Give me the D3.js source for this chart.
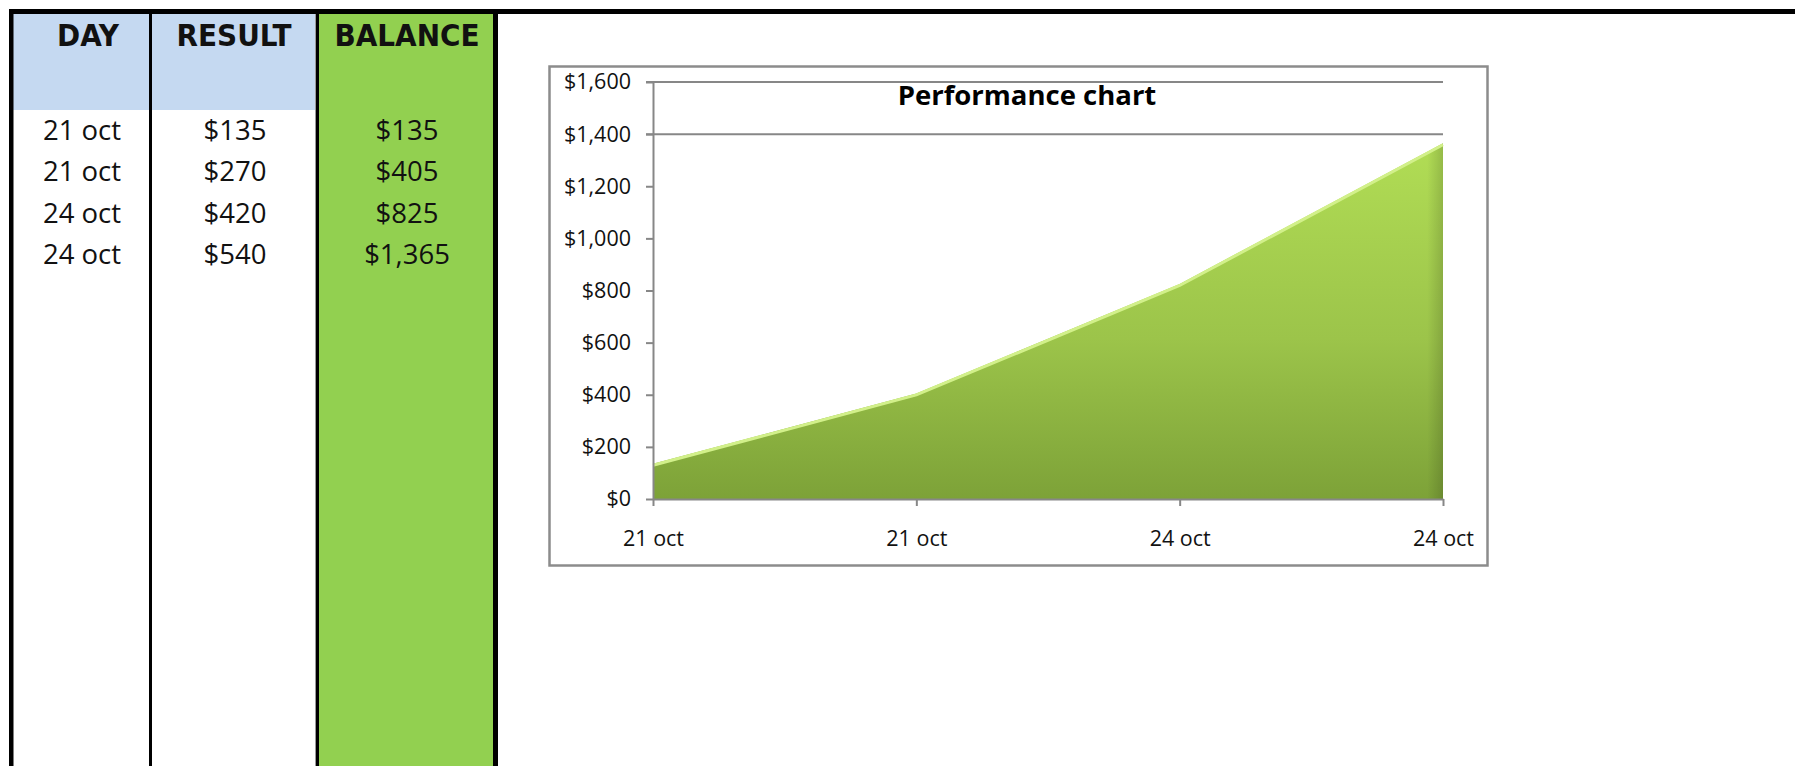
<!DOCTYPE html>
<html>
<head>
<meta charset="utf-8">
<script src="https://cdn.jsdelivr.net/npm/d3@7/dist/d3.min.js"></script>
<style>
  html, body { margin: 0; padding: 0; background: #ffffff; }
  svg { display: block; }
</style>
</head>
<body>
<svg id="chart" width="1795" height="766"></svg>
<script>
// ---- data ----
const headers = ["DAY", "RESULT", "BALANCE"];
const days = ["21 oct", "21 oct", "24 oct", "24 oct"];
const results = [135, 270, 420, 540];
const balances = [135, 405, 825, 1365];
const yTickValues = [0, 200, 400, 600, 800, 1000, 1200, 1400, 1600];
const gridValues = [1400, 1600];
const chartTitle = "Performance chart";

const svg = d3.select("#chart");
const W = 1795, H = 766;
const money = d3.format("$,");

// ---- spreadsheet table ----
const cols = [
  { x0: 13, x1: 149, head: "#C5D9F1", body: "#ffffff" },
  { x0: 152, x1: 316, head: "#C5D9F1", body: "#ffffff" },
  { x0: 319, x1: 493, head: "#92D050", body: "#92D050" }
];
const headTop = 14, headBottom = 110;

cols.forEach(c => {
  svg.append("rect").attr("x", c.x0).attr("y", headTop).attr("width", c.x1 - c.x0)
    .attr("height", headBottom - headTop).attr("fill", c.head);
  svg.append("rect").attr("x", c.x0).attr("y", headBottom).attr("width", c.x1 - c.x0)
    .attr("height", H - headBottom).attr("fill", c.body);
});

// borders
svg.append("rect").attr("x", 9).attr("y", 9).attr("width", W - 9).attr("height", 5).attr("fill", "#000");
svg.append("rect").attr("x", 9).attr("y", 9).attr("width", 4.5).attr("height", H).attr("fill", "#000");
svg.append("rect").attr("x", 149).attr("y", 9).attr("width", 3).attr("height", H).attr("fill", "#000");
svg.append("rect").attr("x", 315).attr("y", 14).attr("width", 1).attr("height", H).attr("fill", "#9a9a9a");
svg.append("rect").attr("x", 316).attr("y", 9).attr("width", 3).attr("height", H).attr("fill", "#000");
svg.append("rect").attr("x", 493).attr("y", 9).attr("width", 5).attr("height", H).attr("fill", "#000");

// header labels
const headOffsets = [7, 0, 1];
svg.selectAll("text.head").data(headers).join("text")
  .attr("class", "head")
  .attr("x", (d, i) => (cols[i].x0 + cols[i].x1) / 2 + headOffsets[i])
  .attr("y", 46)
  .attr("text-anchor", "middle")
  .style("font-family", "'DejaVu Sans Condensed', 'DejaVu Sans', sans-serif")
  .style("font-stretch", "condensed")
  .style("font-weight", "bold")
  .style("font-size", "31px")
  .attr("fill", "#111")
  .text(d => d);

// rows
const rowY = d3.scaleLinear().domain([0, 3]).range([140, 264]);
const cellStyle = sel => sel
  .attr("text-anchor", "middle")
  .style("font-family", "'Open Sans', sans-serif")
  .style("font-size", "27.5px")
  .attr("fill", "#111");

svg.selectAll("text.day").data(days).join("text").attr("class", "day")
  .attr("x", (cols[0].x0 + cols[0].x1) / 2 + 1).attr("y", (d, i) => rowY(i))
  .call(cellStyle).text(d => d);
svg.selectAll("text.res").data(results).join("text").attr("class", "res")
  .attr("x", (cols[1].x0 + cols[1].x1) / 2 + 1).attr("y", (d, i) => rowY(i))
  .call(cellStyle).text(d => money(d));
svg.selectAll("text.bal").data(balances).join("text").attr("class", "bal")
  .attr("x", (cols[2].x0 + cols[2].x1) / 2 + 1).attr("y", (d, i) => rowY(i))
  .call(cellStyle).text(d => money(d));

// ---- chart ----
svg.append("rect").attr("x", 549.5).attr("y", 66.5).attr("width", 938).attr("height", 499)
  .attr("fill", "#fff").attr("stroke", "#8c8c8c").attr("stroke-width", 2.5);

const x = d3.scalePoint().domain(d3.range(days.length)).range([653, 1443]);
const y = d3.scaleLinear().domain([0, 1600]).range([499, 82]);

// gridlines
svg.selectAll("line.grid").data(gridValues).join("line").attr("class", "grid")
  .attr("x1", 646).attr("x2", 1443)
  .attr("y1", d => y(d)).attr("y2", d => y(d))
  .attr("stroke", "#878787").attr("stroke-width", 2);

// gradient
const defs = svg.append("defs");
const grad = defs.append("linearGradient").attr("id", "areaGrad")
  .attr("gradientUnits", "userSpaceOnUse")
  .attr("x1", 0).attr("x2", 0).attr("y1", y(d3.max(balances))).attr("y2", y(0));
grad.append("stop").attr("offset", "0%").attr("stop-color", "#B1DD55");
grad.append("stop").attr("offset", "55%").attr("stop-color", "#9CC44A");
grad.append("stop").attr("offset", "100%").attr("stop-color", "#7DA238");

const sideGrad = defs.append("linearGradient").attr("id", "sideGrad")
  .attr("x1", 0).attr("x2", 1).attr("y1", 0).attr("y2", 0);
sideGrad.append("stop").attr("offset", "0%").attr("stop-color", "#000").attr("stop-opacity", 0);
sideGrad.append("stop").attr("offset", "98%").attr("stop-color", "#000").attr("stop-opacity", 0);
sideGrad.append("stop").attr("offset", "100%").attr("stop-color", "#000").attr("stop-opacity", 0.15);

const area = d3.area().x((d, i) => x(i)).y0(y(0)).y1(d => y(d));
svg.append("path").datum(balances).attr("d", area).attr("fill", "url(#areaGrad)");
svg.append("path").datum(balances).attr("d", area).attr("fill", "url(#sideGrad)");

const line = d3.line().x((d, i) => x(i)).y(d => y(d));
svg.append("path").datum(balances).attr("d", line)
  .attr("fill", "none").attr("stroke", "#D2F08A").attr("stroke-width", 3)
  .attr("transform", "translate(0,1.5)");

// axes
const axisStyle = g => {
  g.select(".domain").attr("stroke", "#878787").attr("stroke-width", 2);
  g.selectAll(".tick line").attr("stroke", "#878787").attr("stroke-width", 2);
  g.selectAll(".tick text")
    .style("font-family", "'Open Sans', sans-serif")
    .style("font-size", "21.5px").attr("fill", "#111");
};

svg.append("g").attr("transform", "translate(653,0)")
  .call(d3.axisLeft(y).tickValues(yTickValues).tickFormat(money).tickSize(7).tickSizeOuter(0).tickPadding(15))
  .call(axisStyle);

svg.append("g").attr("transform", "translate(0,499)")
  .call(d3.axisBottom(x).tickFormat(i => days[i]).tickSize(7).tickSizeOuter(0).tickPadding(25))
  .call(axisStyle);

// title
svg.append("text").attr("x", 1027).attr("y", 105).attr("text-anchor", "middle")
  .style("font-family", "'Open Sans', sans-serif").style("font-weight", "bold")
  .style("font-size", "27.5px").attr("fill", "#000").text(chartTitle);
</script>
</body>
</html>
